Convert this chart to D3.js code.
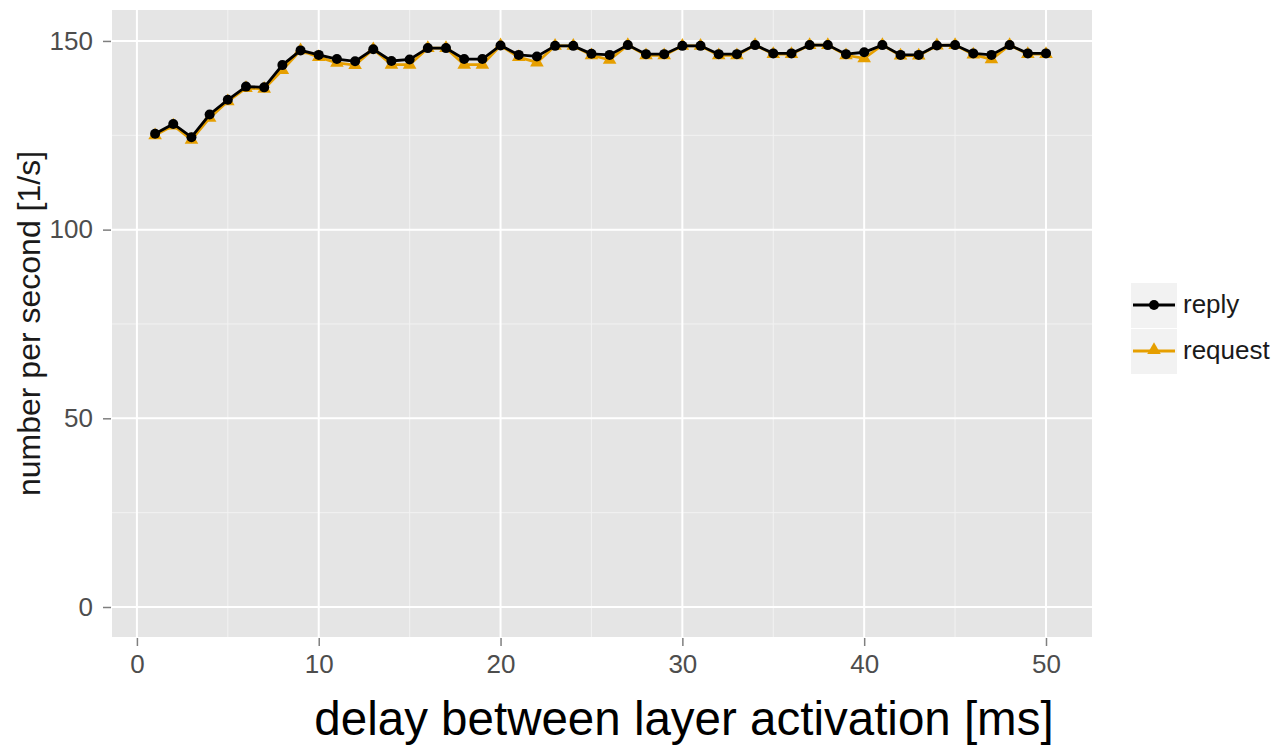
<!DOCTYPE html>
<html>
<head>
<meta charset="utf-8">
<script src="https://cdn.jsdelivr.net/npm/d3@7"></script>
<style>
  body { margin: 0; background: #fff; }
  text { font-family: "Liberation Sans", Arial, sans-serif; }
</style>
</head>
<body>
<div id="chart-area"></div>
<script>
// data
var delays = d3.range(1, 51);
var replyValues = [125.4, 128.0, 124.5, 130.5, 134.4, 137.9, 137.7, 143.6, 147.5, 146.3,
                   145.2, 144.6, 147.8, 144.7, 145.1, 148.1, 148.1, 145.2, 145.2, 148.8,
                   146.3, 145.9, 148.7, 148.7, 146.6, 146.3, 148.9, 146.5, 146.5, 148.7,
                   148.7, 146.5, 146.5, 148.9, 146.7, 146.7, 148.9, 148.9, 146.5, 147.0,
                   148.9, 146.3, 146.3, 148.8, 148.9, 146.7, 146.3, 148.9, 146.7, 146.7];
var requestValues = [125.0, 127.6, 123.8, 129.6, 134.0, 137.5, 137.3, 142.3, 147.5, 145.7,
                     144.2, 143.6, 147.8, 143.7, 143.7, 148.1, 148.1, 143.7, 143.7, 148.8,
                     145.7, 144.3, 148.7, 148.7, 146.2, 145.0, 148.9, 146.2, 146.2, 148.7,
                     148.7, 146.2, 146.2, 148.9, 146.5, 146.5, 148.9, 148.9, 146.2, 145.4,
                     148.9, 146.1, 146.1, 148.8, 148.9, 146.4, 145.1, 148.9, 146.5, 146.5];
var xTicks = [0, 10, 20, 30, 40, 50];
var yTicks = [0, 50, 100, 150];
var seriesNames = ["reply", "request"];
var seriesColors = {reply: "#000000", request: "#E69F00"};

var width = 1278, height = 751;
var panel = {left: 112, top: 10, right: 1092, bottom: 637};

var svg = d3.select("#chart-area").append("svg").attr("width", width).attr("height", height);

var x = d3.scaleLinear().domain([-1.37, 52.53]).range([panel.left, panel.right]);
var y = d3.scaleLinear().domain([-7.95, 158.2]).range([panel.bottom, panel.top]);

// panel background
svg.append("rect").attr("x", panel.left).attr("y", panel.top)
   .attr("width", panel.right - panel.left).attr("height", panel.bottom - panel.top)
   .attr("fill", "#e5e5e5");

var grid = svg.append("g");
// minor grid
[5, 15, 25, 35, 45].forEach(function(v) {
    grid.append("line").attr("x1", x(v)).attr("x2", x(v)).attr("y1", panel.top).attr("y2", panel.bottom)
        .attr("stroke", "#f2f2f2").attr("stroke-width", 1);
});
[25, 75, 125].forEach(function(v) {
    grid.append("line").attr("y1", y(v)).attr("y2", y(v)).attr("x1", panel.left).attr("x2", panel.right)
        .attr("stroke", "#f2f2f2").attr("stroke-width", 1);
});
// major grid
xTicks.forEach(function(v) {
    grid.append("line").attr("x1", x(v)).attr("x2", x(v)).attr("y1", panel.top).attr("y2", panel.bottom)
        .attr("stroke", "#ffffff").attr("stroke-width", 2);
});
yTicks.forEach(function(v) {
    grid.append("line").attr("y1", y(v)).attr("y2", y(v)).attr("x1", panel.left).attr("x2", panel.right)
        .attr("stroke", "#ffffff").attr("stroke-width", 2);
});

// axes
var xAxis = d3.axisBottom(x).tickValues(xTicks).tickSize(8).tickPadding(9);
var gx = svg.append("g").attr("transform", "translate(0," + (panel.bottom + 1) + ")").call(xAxis);
var yAxis = d3.axisLeft(y).tickValues(yTicks).tickSize(8).tickPadding(10);
var gy = svg.append("g").attr("transform", "translate(" + (panel.left - 1) + ",0)").call(yAxis);
[gx, gy].forEach(function(g) {
    g.select(".domain").remove();
    g.selectAll("line").attr("stroke", "#7f7f7f").attr("stroke-width", 1.5);
    g.selectAll("text").attr("fill", "#4d4d4d").attr("font-size", "26px")
     .style("font-family", "'Liberation Sans', Arial, sans-serif");
});

// series
var line = d3.line().x(function(d) { return x(d.x); }).y(function(d) { return y(d.y); });
var series = [
    {name: "request", values: delays.map(function(d, i) { return {x: d, y: requestValues[i]}; })},
    {name: "reply", values: delays.map(function(d, i) { return {x: d, y: replyValues[i]}; })}
];
var triangle = d3.symbol().type(d3.symbolTriangle).size(80);

series.forEach(function(s) {
    var col = seriesColors[s.name];
    svg.append("path").datum(s.values).attr("d", line).attr("fill", "none")
       .attr("stroke", col).attr("stroke-width", 2.8);
    if (s.name === "reply") {
        svg.selectAll(".pt-reply").data(s.values).enter().append("circle").attr("class", "pt-reply")
           .attr("cx", function(d) { return x(d.x); }).attr("cy", function(d) { return y(d.y); })
           .attr("r", 5).attr("fill", col);
    } else {
        svg.selectAll(".pt-request").data(s.values).enter().append("path").attr("class", "pt-request")
           .attr("d", triangle)
           .attr("transform", function(d) { return "translate(" + x(d.x) + "," + y(d.y) + ")"; })
           .attr("fill", col);
    }
});

// axis titles
svg.append("text").attr("x", 684).attr("y", 735).attr("text-anchor", "middle")
   .attr("font-size", "47.5px").attr("fill", "#000").text("delay between layer activation [ms]");
svg.append("text").attr("transform", "translate(40," + ((panel.top + panel.bottom) / 2) + ") rotate(-90)")
   .attr("text-anchor", "middle").attr("font-size", "32px").attr("fill", "#1a1a1a")
   .text("number per second [1/s]");

// legend
var legend = svg.append("g").attr("transform", "translate(1131,283)");
seriesNames.forEach(function(name, i) {
    var g = legend.append("g").attr("transform", "translate(0," + (i * 46) + ")");
    g.append("rect").attr("width", 46).attr("height", 45).attr("fill", "#f2f2f2");
    g.append("line").attr("x1", 2).attr("x2", 44).attr("y1", 22).attr("y2", 22)
     .attr("stroke", seriesColors[name]).attr("stroke-width", 2.8);
    if (name === "reply") {
        g.append("circle").attr("cx", 23).attr("cy", 22).attr("r", 5).attr("fill", seriesColors[name]);
    } else {
        g.append("path").attr("d", triangle).attr("transform", "translate(23,21)").attr("fill", seriesColors[name]);
    }
    g.append("text").attr("x", 52).attr("y", 30).attr("font-size", "26px").attr("fill", "#1a1a1a").text(name);
});
</script>
</body>
</html>
